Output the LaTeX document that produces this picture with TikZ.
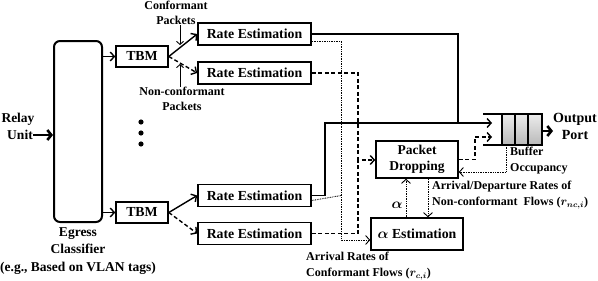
\documentclass[tikz,border=0pt]{standalone}
\usepackage{fontspec}
\setmainfont{Liberation Serif}
\usetikzlibrary{arrows.meta,calc}
\begin{document}
\begin{tikzpicture}[x=1pt,y=-1pt,
  >={Straight Barb[length=4pt,width=9pt]},
  box/.style={draw,line width=1.6pt,inner sep=0pt,font=\fontsize{13.8}{15}\selectfont\bfseries\boldmath},
  lbl/.style={inner sep=0pt,font=\fontsize{12}{15.5}\selectfont\bfseries\boldmath},
  big/.style={inner sep=0pt,font=\fontsize{13.5}{17.5}\selectfont\bfseries},
  conn/.style={line width=1.4pt},
  dsh/.style={line width=1.4pt,dash pattern=on 4pt off 2.5pt},
  dot/.style={line width=0.9pt,dash pattern=on 0.8pt off 0.9pt},
  fat/.style={line width=2.6pt,-{Straight Barb[length=4pt,width=10pt]}},
  cell/.style={draw,line width=1.4pt,top color=gray!15,bottom color=gray!55},
  thin/.style={line width=0.9pt,->,>={Straight Barb[length=3pt,width=7pt]}}]
\useasboundingbox (0,0) rectangle (598,281);

% classifier
\node[draw,line width=2pt,rounded corners=6pt,minimum width=48pt,minimum height=181pt,inner sep=0pt] (cls) at (78,131.5) {};
\node[big,align=center] (clsl) at (78,251) {Egress\\Classifier\\(e.g., Based on VLAN tags)};
\node[big] (relay1) at (18,119) {Relay};
\node[big] (relay2) at (20,135) {Unit};
\draw[fat] (relay2.east) -- (cls.west |- relay2.east);

% TBMs
\node[box,minimum width=52pt,minimum height=21pt] (tbm1) at (142,56.5) {TBM};
\node[box,minimum width=52pt,minimum height=21pt] (tbm2) at (142,212.5) {TBM};
\draw[conn,->] (cls.east |- tbm1) -- (tbm1.west);
\draw[conn,->] (cls.east |- tbm2) -- (tbm2.west);

% rate estimation
\node[box,minimum width=113pt,minimum height=22pt] (re1) at (254.5,34) {Rate Estimation};
\node[box,minimum width=113pt,minimum height=22pt] (re2) at (254.5,73) {Rate Estimation};
\node[box,minimum width=113pt,minimum height=22pt] (re3) at (254.5,195.5) {Rate Estimation};
\node[box,minimum width=113pt,minimum height=22pt] (re4) at (254.5,233.5) {Rate Estimation};
\draw[conn,->] (tbm1.east) -- (re1.west);
\draw[dsh,->] (tbm1.east) -- (re2.west);
\draw[conn,->] (tbm2.east) -- (re3.west);
\draw[dsh,->] (tbm2.east) -- (re4.west);

% dots
\fill (141,122) circle (2.6pt);
\fill (141,133) circle (2.6pt);
\fill (141,144) circle (2.6pt);

% packet labels
\node[lbl,align=center] (lc) at (176,13) {Conformant\\Packets};
\coordinate (ca) at (180,45);
\draw[thin] (lc.south -| ca) -- (ca);
\node[lbl,align=center] (lnc) at (182,99) {Non-conformant\\Packets};
\coordinate (na) at (180,64);
\draw[thin] (lnc.north -| na) -- (na);

% packet dropping, alpha estimation
\node[box,minimum width=82pt,minimum height=37pt,align=center,font=\fontsize{13.5}{16}\selectfont\bfseries] (pd) at (417,159.5) {Packet\\Dropping};
\node[box,minimum width=92pt,minimum height=32pt] (ae) at (417,234) {$\alpha$ Estimation};

% queue
\coordinate (qa) at (483,114);
\coordinate (qb) at (542,114);
\coordinate (qc) at (542,145);
\coordinate (qd) at (483,145);
\draw[cell] (502,114) rectangle (515,145);
\draw[cell] (515,114) rectangle (528,145);
\draw[cell] (528,114) rectangle (542,145);
\draw[line width=1.5pt] (qa) -- (qb) -- (qc) -- (qd);
\node[big,align=center,font=\fontsize{14}{17}\selectfont\bfseries] (out) at (575,126) {Output\\Port};
\coordinate (qr) at (542,131);
\draw[fat] (qr) -- (out.west |- qr);

% solid paths to queue
\coordinate (j1) at (325,123);
\coordinate (j2) at (458,123);
\coordinate (qin1) at (492,123);
\draw[conn,->] (re3.east) -| (j1) -- (qin1);
\draw[conn] (re1.east) -| (j2);

% dotted conformant rates
\coordinate (d1) at (341,240);
\draw[dot,->] ([yshift=-7pt]re1.east) -| (d1) -- (ae.west |- d1);
\draw[dot] ([yshift=-5pt]re3.east) -- (re3.east -| d1);

% dashed non-conformant
\coordinate (e1) at (358,160);
\draw[dsh] (re2.east) -| (e1);
\draw[dsh,->] (re4.east) -| (e1) -- (pd.west |- e1);

% pd to queue
\coordinate (k) at (475,137);
\coordinate (qin2) at (492,137);
\draw[dsh,->] (pd.east) -| (k) -- (qin2);

% buffer occupancy
\coordinate (bq) at (506,145);
\draw[dot,->] (bq) |- ([yshift=-12.5pt]pd.east);
\node[lbl,align=left,anchor=west] (bo) at (510,160.5) {Buffer\\Occupancy};

% alpha arrows
\draw[dot,->] ([xshift=-11pt]ae.north) -- ([xshift=-11pt]pd.south);
\draw[dot,->] ([xshift=11pt]pd.south) -- ([xshift=11pt]ae.north);
\node[inner sep=0pt,font=\fontsize{14}{16}\selectfont\boldmath] (al) at (397,205) {$\alpha$};
\node[lbl,align=left,anchor=west] (adr) at (432,195) {Arrival/Departure Rates of\\Non-conformant\ \ Flows ($r_{nc,i}$)};
\node[lbl,align=left,anchor=west] (arc) at (306,266) {Arrival Rates of\\Conformant Flows ($r_{c,i}$)};
\end{tikzpicture}
\end{document}
